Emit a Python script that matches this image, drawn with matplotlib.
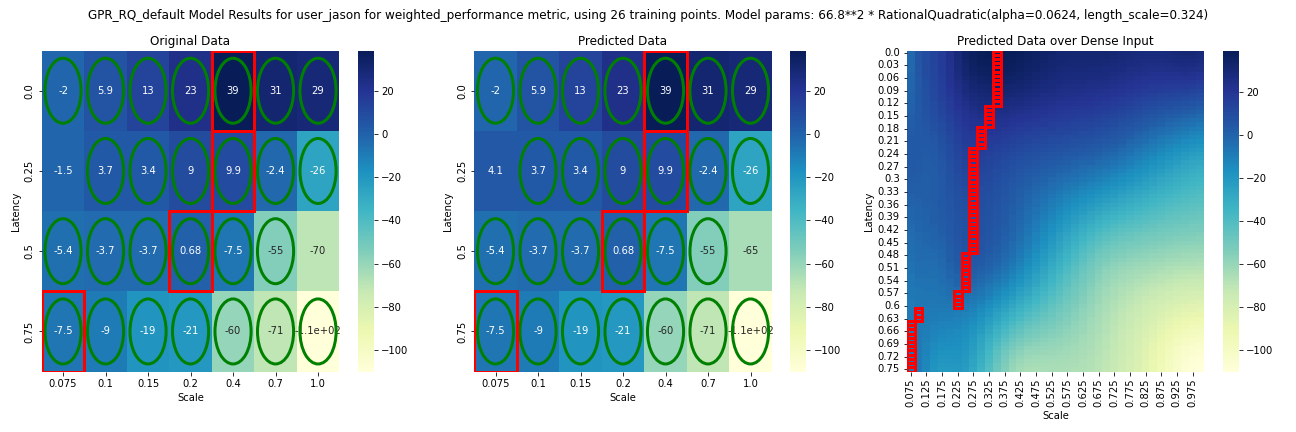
import numpy as np
import pandas as pd
import matplotlib
matplotlib.use("Agg")
import matplotlib.pyplot as plt
import seaborn as sns
from matplotlib.patches import Rectangle, Ellipse

# ---- data ----
latency = [0.0, 0.25, 0.5, 0.75]
scale = [0.075, 0.1, 0.15, 0.2, 0.4, 0.7, 1.0]

original_values = [
    [-2.0, 5.9, 13.0, 23.0, 38.6, 31.0, 29.0],
    [-1.5, 3.7, 3.4, 9.0, 9.9, -2.4, -26.0],
    [-5.4, -3.7, -3.7, 0.68, -7.5, -55.0, -70.0],
    [-7.5, -9.0, -19.0, -21.0, -60.0, -71.0, -110.0],
]
predicted_values = [
    [-2.0, 5.9, 13.0, 23.0, 38.6, 31.0, 29.0],
    [4.1, 3.7, 3.4, 9.0, 9.9, -2.4, -26.0],
    [-5.4, -3.7, -3.7, 0.68, -7.5, -55.0, -65.0],
    [-7.5, -9.0, -19.0, -21.0, -60.0, -71.0, -110.0],
]
# training mask (green ellipses): 1 = used for training
training_mask = [
    [1, 1, 1, 1, 1, 1, 1],
    [0, 1, 1, 1, 1, 1, 1],
    [1, 1, 1, 1, 1, 1, 0],
    [1, 1, 1, 1, 1, 1, 1],
]

# model parameters stated in the title
const_value = 66.8 ** 2
rq_alpha = 0.0624
rq_length = 0.324

# dense input grid
dense_latency = np.round(np.arange(0, 76) * 0.01, 2)
dense_scale = np.round(0.075 + np.arange(0, 38) * 0.025, 3)

title = ("GPR_RQ_default Model Results for user_jason for weighted_performance metric, "
         "using 26 training points. Model params: 66.8**2 * RationalQuadratic(alpha=0.0624, length_scale=0.324)")

# ---- GP posterior mean from the training points (the model in the title) ----
def rq_kernel(A, B):
    d2 = ((A[:, None, :] - B[None, :, :]) ** 2).sum(-1)
    return const_value * (1 + d2 / (2 * rq_alpha * rq_length ** 2)) ** (-rq_alpha)

orig = np.array(original_values)
mask = np.array(training_mask).astype(bool)
LL, SS = np.meshgrid(latency, scale, indexing="ij")
X_train = np.column_stack([LL[mask], SS[mask]])
y_train = orig[mask]
K = rq_kernel(X_train, X_train) + 1e-10 * np.eye(len(X_train))
w = np.linalg.solve(K, y_train)
DL, DS = np.meshgrid(dense_latency, dense_scale, indexing="ij")
X_dense = np.column_stack([DL.ravel(), DS.ravel()])
dense_pred = (rq_kernel(X_dense, X_train) @ w).reshape(DL.shape)

df_orig = pd.DataFrame(original_values, index=latency, columns=scale)
df_pred = pd.DataFrame(predicted_values, index=latency, columns=scale)
df_dense = pd.DataFrame(dense_pred, index=dense_latency, columns=dense_scale)

fig, axes = plt.subplots(1, 3, figsize=(18, 6), dpi=72)

def mark_rows(ax, values):
    arr = np.asarray(values)
    for r in range(arr.shape[0]):
        c = int(np.argmax(arr[r]))
        ax.add_patch(Rectangle((c, r), 1, 1, fill=False, edgecolor="red", lw=3, zorder=5))

def mark_training(ax):
    m = np.array(training_mask)
    for r in range(m.shape[0]):
        for c in range(m.shape[1]):
            if m[r, c]:
                ax.add_patch(Ellipse((c + 0.5, r + 0.5), 0.85, 0.81, fill=False,
                                     edgecolor="green", lw=3, zorder=4))

for ax, df, ttl in [(axes[0], df_orig, "Original Data"), (axes[1], df_pred, "Predicted Data")]:
    sns.heatmap(df, ax=ax, cmap="YlGnBu", annot=True)
    mark_training(ax)
    mark_rows(ax, df.values)
    ax.set_title(ttl)
    ax.set_xlabel("Scale")
    ax.set_ylabel("Latency")

sns.heatmap(df_dense, ax=axes[2], cmap="YlGnBu", xticklabels=2, yticklabels=3)
mark_rows(axes[2], df_dense.values)
axes[2].set_title("Predicted Data over Dense Input")
axes[2].set_xlabel("Scale")
axes[2].set_ylabel("Latency")

fig.suptitle(title)
fig.tight_layout()
fig.savefig("out.png", dpi=72)
